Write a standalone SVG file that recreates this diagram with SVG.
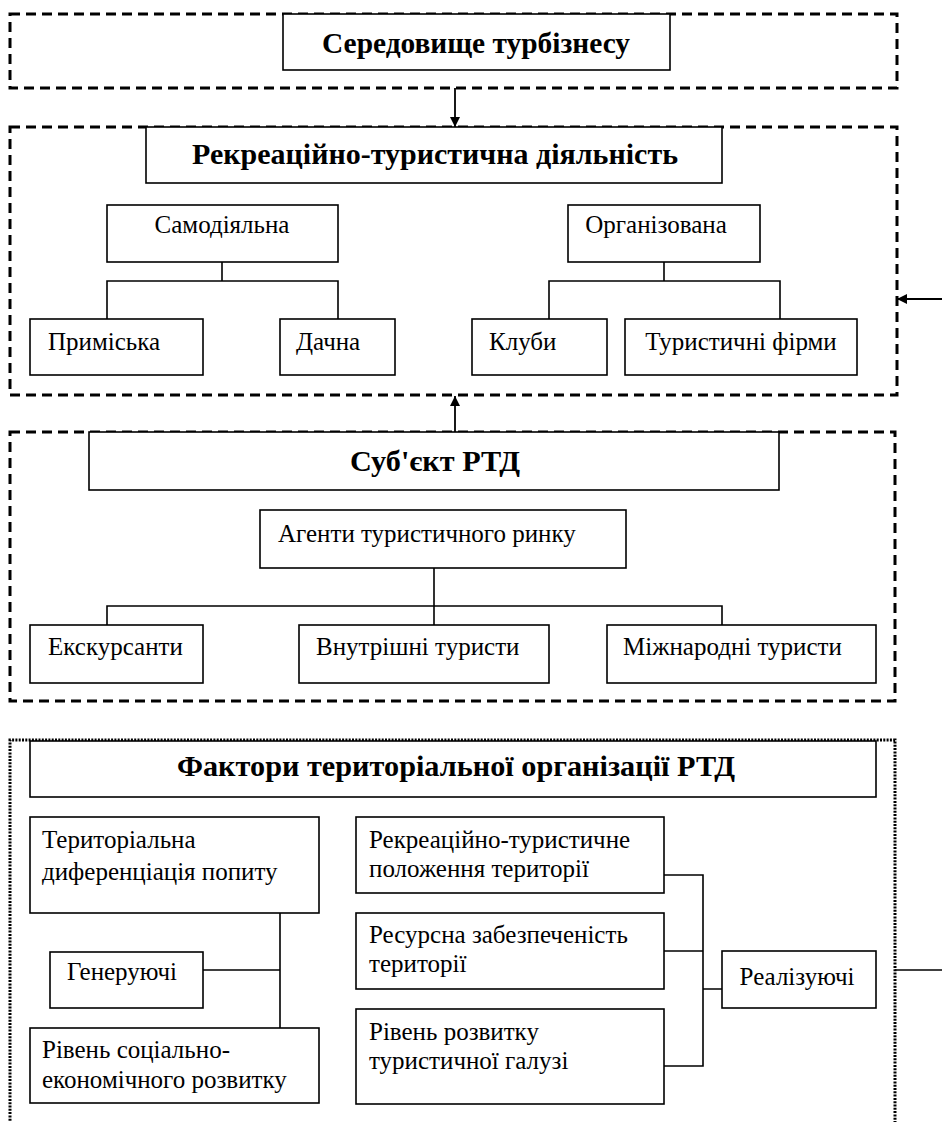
<svg xmlns="http://www.w3.org/2000/svg" width="942" height="1122" viewBox="0 0 942 1122">
<defs>
<marker id="arr" viewBox="0 0 10 10" refX="10" refY="5" markerWidth="10" markerHeight="10" markerUnits="userSpaceOnUse" orient="auto">
<path d="M0,0 L10,5 L0,10 z" fill="#000"/>
</marker>
<style>
.box{fill:#fff;stroke:#000;stroke-width:1.6}
.dash{fill:none;stroke:#000;stroke-width:3;stroke-dasharray:10 6}
.dot{fill:none;stroke:#000;stroke-width:3;stroke-dasharray:2 1.3}
.t{font-family:'Liberation Serif','Times New Roman',serif;font-size:25px;fill:#000}
.b{font-family:'Liberation Serif','Times New Roman',serif;font-size:29px;font-weight:bold;fill:#000}
.ln{fill:none;stroke:#000;stroke-width:1.6}
.ar{fill:none;stroke:#000;stroke-width:1.8}
</style>
</defs>
<rect width="942" height="1122" fill="#fff"/>

<g id="frames">
<rect class="dash" x="10" y="14" width="887" height="74"/>
<rect class="dash" x="10" y="127" width="887" height="268"/>
<rect class="dash" x="10" y="432" width="885" height="269"/>
<path class="dot" d="M10,1124 L10,740 L895,740 L895,1124"/>
</g>

<g id="connectors">
<line class="ar" x1="455" y1="88" x2="455" y2="127" marker-end="url(#arr)"/>
<line class="ar" x1="942" y1="299" x2="897" y2="299" marker-end="url(#arr)"/>
<line class="ar" x1="455" y1="432" x2="455" y2="396" marker-end="url(#arr)"/>
<line class="ln" x1="895" y1="970" x2="942" y2="970"/>
<path class="ln" d="M222,262 V281 M107,319 V281 H338 V319"/>
<path class="ln" d="M664,262 V281 M549,319 V281 H780 V319"/>
<path class="ln" d="M434,568 V625 M107,625 V606 H722 V625"/>
<path class="ln" d="M280,913 V1028 M203,970 H280"/>
<path class="ln" d="M664,875 H703 V1066 H664 M664,951 H703 M703,989 H722"/>
</g>

<g id="n-seredovyshche">
<rect class="box" x="283" y="14" width="387" height="56"/>
<text class="b" x="322" y="53" textLength="308" lengthAdjust="spacingAndGlyphs">Середовище турбізнесу</text>
</g>

<g id="n-rtd">
<rect class="box" x="146" y="127" width="576" height="56"/>
<text class="b" x="192" y="164" textLength="486" lengthAdjust="spacingAndGlyphs">Рекреаційно-туристична діяльність</text>
</g>

<g id="n-samodiialna">
<rect class="box" x="107" y="205" width="231" height="57"/>
<text class="t" x="222" y="233" text-anchor="middle">Самодіяльна</text>
</g>
<g id="n-orhanizovana">
<rect class="box" x="568" y="205" width="192" height="57"/>
<text class="t" x="656" y="233" text-anchor="middle">Організована</text>
</g>
<g id="n-primiska">
<rect class="box" x="30" y="319" width="173" height="56"/>
<text class="t" x="48" y="350">Приміська</text>
</g>
<g id="n-dachna">
<rect class="box" x="280" y="319" width="115" height="56"/>
<text class="t" x="296" y="350">Дачна</text>
</g>
<g id="n-kluby">
<rect class="box" x="472" y="319" width="135" height="56"/>
<text class="t" x="489" y="350">Клуби</text>
</g>
<g id="n-firmy">
<rect class="box" x="625" y="319" width="232" height="56"/>
<text class="t" x="741" y="350" text-anchor="middle">Туристичні фірми</text>
</g>

<g id="n-subiekt">
<rect class="box" x="89" y="432" width="690" height="58"/>
<text class="b" x="350" y="471" textLength="170" lengthAdjust="spacingAndGlyphs">Суб'єкт РТД</text>
</g>
<g id="n-ahenty">
<rect class="box" x="260" y="510" width="366" height="58"/>
<text class="t" x="278" y="542">Агенти туристичного ринку</text>
</g>
<g id="n-ekskursanty">
<rect class="box" x="30" y="625" width="173" height="58"/>
<text class="t" x="48" y="655">Екскурсанти</text>
</g>
<g id="n-vnutrishni">
<rect class="box" x="299" y="625" width="250" height="58"/>
<text class="t" x="316" y="655">Внутрішні туристи</text>
</g>
<g id="n-mizhnarodni">
<rect class="box" x="607" y="625" width="269" height="58"/>
<text class="t" x="623" y="655">Міжнародні туристи</text>
</g>

<g id="n-faktory">
<rect class="box" x="30" y="741" width="846" height="56"/>
<text class="b" x="177" y="776" textLength="558" lengthAdjust="spacingAndGlyphs">Фактори територіальної організації РТД</text>
</g>
<g id="n-dyferentsiatsiia">
<rect class="box" x="30" y="817" width="289" height="96"/>
<text class="t" x="42" y="848">Територіальна</text>
<text class="t" x="42" y="880">диференціація попиту</text>
</g>
<g id="n-heneruiuchi">
<rect class="box" x="50" y="952" width="153" height="56"/>
<text class="t" x="67" y="980">Генеруючі</text>
</g>
<g id="n-riven-sots">
<rect class="box" x="30" y="1028" width="289" height="75"/>
<text class="t" x="42" y="1058">Рівень соціально-</text>
<text class="t" x="42" y="1088">економічного розвитку</text>
</g>
<g id="n-polozhennia">
<rect class="box" x="356" y="817" width="308" height="76"/>
<text class="t" x="369" y="848">Рекреаційно-туристичне</text>
<text class="t" x="369" y="877">положення території</text>
</g>
<g id="n-resursna">
<rect class="box" x="356" y="913" width="308" height="76"/>
<text class="t" x="369" y="943">Ресурсна забезпеченість</text>
<text class="t" x="369" y="972">території</text>
</g>
<g id="n-riven-haluzi">
<rect class="box" x="356" y="1009" width="308" height="95"/>
<text class="t" x="369" y="1040">Рівень розвитку</text>
<text class="t" x="369" y="1069">туристичної галузі</text>
</g>
<g id="n-realizuiuchi">
<rect class="box" x="722" y="951" width="154" height="57"/>
<text class="t" x="797" y="985" text-anchor="middle">Реалізуючі</text>
</g>
</svg>
